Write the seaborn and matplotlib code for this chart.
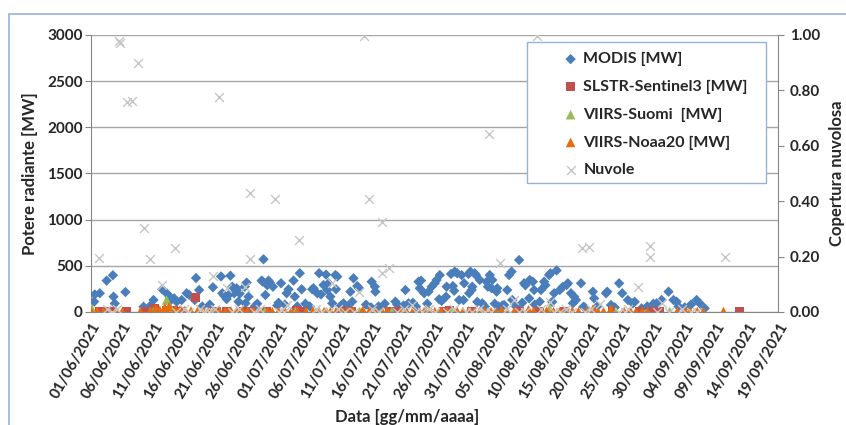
import pandas as pd
import matplotlib.pyplot as plt
from matplotlib.patches import Rectangle
import seaborn as sns

start = pd.Timestamp('2021-06-01')

# giorni dal 01/06/2021 e valori
modis_day = [0.5, 0.6, 1.4, 2.5, 3.5, 3.6, 3.8, 5.5, 8.4, 9.6, 10.0, 11.4, 12.1, 12.6, 12.8, 13.3, 13.7, 14.5,
             15.3, 15.7, 16.6, 16.8, 17.3, 17.8, 19.0, 19.5, 20.8, 21.0, 21.3, 21.7, 22.0, 22.3, 22.6, 22.9,
             23.3, 23.6, 23.8, 24.6, 24.7, 24.9, 25.2, 26.2, 26.6, 27.3, 27.6, 27.5, 27.9, 28.2, 28.4, 28.6,
             29.1, 29.8, 30.0, 30.4, 31.0, 31.3, 31.6, 32.4, 32.6, 33.0, 33.4, 33.7, 34.3, 35.0, 35.4, 35.6,
             36.2, 36.5, 36.8, 37.2, 37.6, 37.8, 38.0, 38.3, 38.6, 39.1, 39.2, 39.4, 40.0, 40.4, 41.0, 41.5,
             41.8, 42.0, 42.6, 42.9, 44.0, 44.8, 44.9, 45.4, 45.5, 46.0, 47.0, 48.7, 49.0, 50.0, 50.3, 50.8,
             51.5, 52.0, 52.4, 52.6, 52.8, 53.3, 53.8, 54.0, 54.5, 55.0, 55.3, 55.7, 55.8, 56.1, 56.8, 56.9,
             57.6, 57.9, 58.1, 58.2, 58.6, 58.9, 59.3, 59.6, 59.7, 60.4, 60.5, 60.7, 60.9, 61.0, 61.4, 61.6,
             61.8, 62.2, 62.6, 63.0, 63.3, 63.5, 63.8, 64.1, 64.2, 64.6, 64.9, 65.0, 65.2, 65.8, 66.1, 66.6,
             66.9, 67.3, 67.4, 68.0, 68.5, 69.0, 69.3, 69.5, 70.1, 70.2, 70.7, 70.9, 71.0, 71.8, 72.0, 72.5,
             72.7, 73.3, 73.5, 73.8, 74.1, 74.5, 75.0, 75.5, 76.1, 76.3, 76.8, 77.1, 77.3, 77.6, 78.4, 78.8,
             79.0, 80.3, 80.5, 81.0, 82.4, 82.6, 83.2, 83.8, 84.5, 85.0, 85.9, 86.7, 87.0, 88.1, 89.0, 90.0,
             90.5, 91.3, 92.4, 93.2, 93.7, 94.0, 95.0, 96.0, 96.9, 97.4, 98.2]
modis_mw = [112, 190, 203, 340, 398, 166, 92, 216, 57, 76, 130, 245, 203, 165, 130, 148, 112, 130,
            203, 185, 130, 368, 238, 60, 80, 268, 385, 203, 177, 140, 184, 393, 274, 203,
            257, 112, 200, 274, 94, 318, 166, 60, 90, 340, 571, 328, 184, 290, 340, 318,
            274, 70, 100, 311, 80, 203, 246, 340, 166, 60, 420, 246, 90, 60, 246, 257,
            203, 420, 190, 292, 405, 238, 311, 166, 94, 400, 246, 383, 70, 94, 60, 220,
            112, 365, 281, 257, 80, 50, 328, 274, 220, 60, 90, 112, 80, 70, 238, 94,
            100, 60, 328, 257, 340, 203, 90, 220, 274, 311, 347, 138, 400, 120, 166, 274,
            412, 281, 230, 437, 419, 130, 400, 130, 311, 412, 203, 437, 238, 274, 419, 400,
            110, 347, 94, 60, 328, 274, 400, 257, 347, 90, 220, 257, 60, 70, 76, 238,
            400, 437, 130, 60, 563, 100, 311, 290, 148, 347, 328, 238, 80, 112, 238, 328,
            290, 400, 419, 110, 203, 450, 238, 274, 292, 311, 203, 94, 166, 130, 311, 57,
            50, 220, 148, 60, 203, 220, 76, 50, 311, 203, 130, 94, 110, 40, 60, 90,
            94, 130, 220, 130, 112, 60, 50, 80, 130, 94, 40]

slstr_day = [1.4, 2.4, 3.3, 5.7, 8.6, 10.2, 12.1, 13.2, 14.5, 16.7, 20.1, 21.7, 24.4, 25.7, 28.1, 32.9,
             33.9, 40.3, 41.7, 47.8, 48.9, 56.4, 57.3, 60.9, 68.6, 71.8, 75.8, 83.5, 87.8, 89.9, 91.0, 103.8]
slstr_mw = [10, 10, 10, 5, 5, 38, 15, 15, 10, 160, 10, 10, 10, 5, 10, 15,
            10, 10, 10, 10, 10, 5, 15, 10, 10, 10, 10, 5, 5, 10, 5, 10]

suomi_day = [0.1, 10.0, 12.1, 12.9, 19.5, 27.8, 32.7, 37.7, 43.0, 48.1, 53.6, 55.7, 57.8, 73.4, 84.0, 92.6]
suomi_mw = [40, 5, 130, 25, 5, 5, 5, 5, 5, 5, 5, 5, 10, 40, 5, 5]

noaa_day = [0.0, 1.0, 2.0, 3.0, 4.0, 5.0, 7.9, 9.5, 10.4, 11.0, 11.8, 12.5, 13.5, 14.2, 15.0, 16.0,
            17.0, 18.0, 18.8, 19.8, 20.6, 21.5, 22.4, 23.3, 24.2, 25.0, 26.0, 27.0, 28.3, 29.0, 30.0,
            31.0, 32.0, 33.0, 34.4, 35.5, 36.5, 37.3, 38.3, 39.2, 40.0, 41.0, 42.0, 43.5, 44.5, 45.6,
            46.6, 47.4, 49.5, 50.5, 51.5, 52.6, 53.3, 54.2, 55.0, 56.0, 57.0, 58.6, 59.5, 60.4, 61.3,
            62.2, 63.0, 64.0, 64.8, 65.7, 66.6, 67.7, 69.0, 70.0, 70.8, 72.0, 72.9, 74.0, 75.0, 76.0,
            77.0, 78.0, 79.3, 80.3, 81.1, 82.0, 83.2, 85.3, 86.3, 87.2, 88.2, 89.0, 93.8, 95.0, 95.8,
            97.0, 98.0, 101.2]
noaa_mw = [10, 5, 5, 5, 5, 5, 5, 10, 35, 20, 45, 60, 25, 20, 15, 10,
           5, 5, 10, 5, 5, 5, 10, 5, 10, 5, 5, 10, 5, 5, 5,
           10, 5, 5, 5, 10, 5, 5, 5, 5, 5, 10, 5, 20, 5, 5,
           5, 10, 5, 5, 10, 5, 5, 10, 5, 5, 5, 5, 5, 10, 5,
           5, 10, 5, 5, 20, 5, 5, 5, 25, 10, 5, 10, 5, 5, 5,
           10, 5, 5, 30, 5, 5, 30, 5, 10, 5, 5, 5, 5, 5, 10,
           5, 5, 5]

nuvole_day = [1.3, 4.4, 4.6, 5.7, 6.5, 7.5, 8.5, 9.4, 11.4, 13.4, 19.5, 20.4, 21.7, 24.6, 25.4, 25.5,
              29.4, 31.3, 33.3, 38.5, 42.8, 43.6, 44.5, 46.5, 46.5, 47.6, 51.3, 63.6, 65.5, 67.7, 71.4,
              73.4, 78.5, 79.6, 81.4, 87.6, 89.5, 89.5, 91.3, 101.4,
              2.5, 3.3, 4.1, 13.6, 14.8, 15.6, 17.5, 18.2, 18.8, 19.8, 22.5, 23.6, 26.0, 27.0, 30.0,
              30.8, 36.0, 37.0, 38.0, 39.5, 40.6, 42.0, 45.0, 46.0, 49.0, 50.0, 52.0, 53.0, 54.0, 55.0,
              57.0, 58.0, 60.0, 60.9, 62.0, 63.0, 64.0, 66.5, 68.5, 69.5, 72.0, 74.0, 75.0, 76.0, 77.0,
              79.0, 80.0, 84.5, 85.5, 86.0, 90.5, 92.5, 94.5, 96.0, 97.0]
nuvole_val = [0.196, 0.98, 0.972, 0.758, 0.763, 0.90, 0.303, 0.19, 0.097, 0.23, 0.13, 0.777, 0.085, 0.09,
              0.19, 0.43, 0.408, 0.025, 0.26, 0.104, 0.073, 0.997, 0.408, 0.326, 0.14, 0.158, 0.025,
              0.641, 0.176, 0.043, 0.997, 0.037, 0.23, 0.236, 0.029, 0.089, 0.24, 0.20, 0.031, 0.197,
              0.01, 0.0, 0.01, 0.0, 0.01, 0.0, 0.01, 0.0, 0.0, 0.01, 0.0, 0.01, 0.0, 0.01, 0.0,
              0.0, 0.01, 0.0, 0.0, 0.01, 0.0, 0.0, 0.01, 0.0, 0.0, 0.01, 0.0, 0.0, 0.01, 0.0,
              0.0, 0.01, 0.0, 0.0, 0.01, 0.0, 0.0, 0.01, 0.0, 0.0, 0.01, 0.0, 0.0, 0.01, 0.0,
              0.0, 0.01, 0.0, 0.0, 0.01, 0.0, 0.0, 0.01, 0.0, 0.0]


def to_df(days, vals):
    return pd.DataFrame({'data': start + pd.to_timedelta(days, unit='D'), 'val': vals})


sns.set_style('white')
plt.rcParams['font.family'] = ['Lato', 'DejaVu Sans']
plt.rcParams['font.weight'] = 'bold'

fig = plt.figure(figsize=(8.46, 4.25), dpi=100)
ax = fig.add_axes([0.1076, 0.2659, 0.8126, 0.6518])
ax2 = ax.twinx()

sns.scatterplot(data=to_df(modis_day, modis_mw), x='data', y='val', ax=ax, marker='D', s=28,
                color='#4a7ebb', edgecolor='none', legend=False, label='MODIS [MW]', zorder=3)
sns.scatterplot(data=to_df(slstr_day, slstr_mw), x='data', y='val', ax=ax, marker='s', s=42,
                color='#c0504d', edgecolor='none', legend=False, label='SLSTR-Sentinel3 [MW]', zorder=3)
sns.scatterplot(data=to_df(suomi_day, suomi_mw), x='data', y='val', ax=ax, marker='^', s=48,
                color='#9bbb59', edgecolor='none', legend=False, label='VIIRS-Suomi  [MW]', zorder=3)
sns.scatterplot(data=to_df(noaa_day, noaa_mw), x='data', y='val', ax=ax, marker='^', s=48,
                color='#e96b0c', edgecolor='none', legend=False, label='VIIRS-Noaa20 [MW]', zorder=3)
sns.scatterplot(data=to_df(nuvole_day, nuvole_val), x='data', y='val', ax=ax2, marker='x', s=40,
                color='#c6c6c6', linewidth=1.0, legend=False, label='Nuvole', zorder=3)

# assi
xmin, xmax = start, start + pd.Timedelta(days=110)
ax.set_xlim(xmin, xmax)
ax.set_ylim(0, 3000)
ax2.set_ylim(0, 1)
ax.set_yticks(range(0, 3001, 500))
ax2.set_yticks([0, 0.2, 0.4, 0.6, 0.8, 1.0])
ax2.set_yticklabels(['%.2f' % v for v in [0, 0.2, 0.4, 0.6, 0.8, 1.0]])

ticks5 = pd.date_range(xmin, xmax, freq='5D')
ticks10 = pd.date_range(xmin, xmax, freq='10D')
ax.set_xticks(ticks5)
ax.set_xticklabels([t.strftime('%d/%m/%Y') for t in ticks5], rotation=60, ha='right',
                   rotation_mode='anchor')
ax.set_xticks(ticks10, minor=True)

ax.grid(axis='y', which='major', color='#a6a6a6', lw=1)
ax.grid(axis='x', which='minor', color='#b3b3b3', lw=1)
ax.set_axisbelow(True)

gray = '#868686'
for s in ['top', 'right']:
    ax.spines[s].set_visible(False)
for s in ['top', 'left', 'bottom']:
    ax2.spines[s].set_visible(False)
ax.spines['left'].set_color(gray)
ax.spines['bottom'].set_color(gray)
ax2.spines['right'].set_color(gray)

ax.tick_params(axis='both', which='major', direction='out', length=4, color=gray,
               labelsize=11, pad=2)
ax.tick_params(axis='x', which='minor', length=0)
ax2.tick_params(axis='y', direction='out', length=4, color=gray, labelsize=11, pad=4)

ax.set_xlabel('Data [gg/mm/aaaa]', fontsize=12, fontweight='bold')
ax.xaxis.set_label_coords(0.46, -0.35)
ax.set_ylabel('Potere radiante [MW]', fontsize=12, fontweight='bold')
ax.yaxis.set_label_coords(-0.077, 0.5)
ax2.set_ylabel('Copertura nuvolosa', fontsize=12, fontweight='bold')
ax2.yaxis.set_label_coords(1.074, 0.5)

# legenda
ax2.add_patch(Rectangle((0.634, 0.467), 0.348, 0.508, transform=ax2.transAxes, facecolor='white',
                        edgecolor='#95b3d7', lw=1, zorder=5))
h1, l1 = ax.get_legend_handles_labels()
h2, l2 = ax2.get_legend_handles_labels()
leg = ax2.legend(h1 + h2, l1 + l2, loc='upper left', bbox_to_anchor=(0.686, 0.938), frameon=False,
                 fontsize=11.5, handlelength=1.0, handletextpad=0.3, labelspacing=0.85,
                 borderpad=0, borderaxespad=0)
leg.set_zorder(6)

# bordo esterno del grafico
fig.patches.append(Rectangle((9 / 846, -0.1), 1.2, (425 - 14) / 425 + 0.1, transform=fig.transFigure,
                             fill=False, edgecolor='#95b3d7', lw=1.2))

fig.savefig('out.png', dpi=100)
